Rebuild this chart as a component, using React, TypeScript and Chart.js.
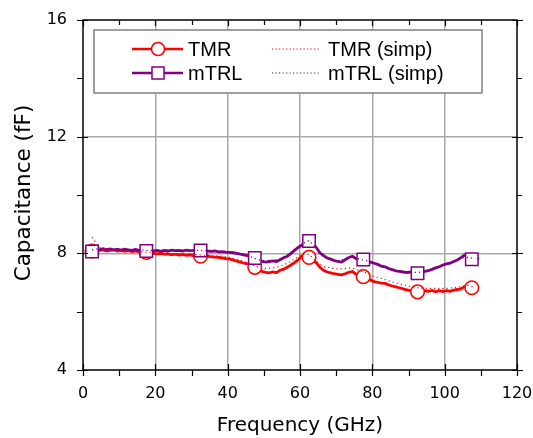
import React, { useEffect, useRef } from "react";
import { Chart, registerables } from "chart.js";

Chart.register(...registerables);

// Frequency sweep (GHz) of the measured curves
const freq = [
  2.5, 3.5, 4.5, 5.5, 6.5, 7.5, 8.5, 9.5, 10.5, 11.5,
  12.5, 13.5, 14.5, 15.5, 16.5, 17.5, 18.5, 19.5, 20.5, 21.5,
  22.5, 23.5, 24.5, 25.5, 26.5, 27.5, 28.5, 29.5, 30.5, 31.5,
  32.5, 33.5, 34.5, 35.5, 36.5, 37.5, 38.5, 39.5, 40.5, 41.5,
  42.5, 43.5, 44.5, 45.5, 46.5, 47.5, 48.5, 49.5, 50.5, 51.5,
  52.5, 53.5, 54.5, 55.5, 56.5, 57.5, 58.5, 59.5, 60.5, 61.5,
  62.5, 63.5, 64.5, 65.5, 66.5, 67.5, 68.5, 69.5, 70.5, 71.5,
  72.5, 73.5, 74.5, 75.5, 76.5, 77.5, 78.5, 79.5, 80.5, 81.5,
  82.5, 83.5, 84.5, 85.5, 86.5, 87.5, 88.5, 89.5, 90.5, 91.5,
  92.5, 93.5, 94.5, 95.5, 96.5, 97.5, 98.5, 99.5, 100.5, 101.5,
  102.5, 103.5, 104.5, 105.5, 106.5, 107.5, 108.5, 109.5,
];

const tmr = [
  8.08, 8.12, 8.1, 8.12, 8.08, 8.1, 8.12, 8.08, 8.1, 8.07,
  8.09, 8.06, 8.08, 8.05, 8.06, 8.03, 8.02, 8.0, 7.98, 8.0,
  7.97, 7.98, 7.95, 7.97, 7.94, 7.96, 7.93, 7.95, 7.92, 7.93,
  7.9, 7.92, 7.9, 7.88, 7.87, 7.86, 7.84, 7.82, 7.8, 7.78,
  7.73, 7.7, 7.66, 7.64, 7.6, 7.52, 7.42, 7.38, 7.35, 7.33,
  7.36, 7.34, 7.42, 7.46, 7.52, 7.6, 7.68, 7.78, 7.9, 7.96,
  7.86, 7.8, 7.68, 7.52, 7.42, 7.36, 7.33, 7.3, 7.28, 7.26,
  7.3, 7.35, 7.38, 7.28, 7.22, 7.2, 7.16, 7.08, 7.03, 7.0,
  6.98, 6.97, 6.92, 6.88, 6.85, 6.82, 6.78, 6.75, 6.72, 6.7,
  6.68, 6.7, 6.72, 6.7, 6.73, 6.68, 6.72, 6.69, 6.72, 6.7,
  6.74, 6.76, 6.78, 6.86, 6.88, 6.82, 6.84, 6.8,
];

const mtrl = [
  8.06, 8.15, 8.12, 8.16, 8.13, 8.15, 8.12, 8.14, 8.11, 8.14,
  8.12, 8.1, 8.13, 8.1, 8.12, 8.08, 8.1, 8.08, 8.1, 8.07,
  8.1, 8.08, 8.11, 8.09, 8.1, 8.08, 8.11, 8.09, 8.1, 8.12,
  8.1, 8.1, 8.08, 8.07, 8.08, 8.05, 8.06, 8.04, 8.03, 8.02,
  8.0, 7.97, 7.95, 7.92, 7.9, 7.84, 7.76, 7.72, 7.7, 7.72,
  7.74, 7.72, 7.78, 7.85, 7.9, 8.0, 8.1, 8.2, 8.28, 8.38,
  8.42, 8.35, 8.2, 8.02, 7.92, 7.84, 7.8, 7.75, 7.72, 7.7,
  7.78, 7.86, 7.9, 7.82, 7.8, 7.79, 7.76, 7.7, 7.66, 7.62,
  7.56, 7.54, 7.48, 7.44, 7.4, 7.38, 7.36, 7.34, 7.36, 7.33,
  7.32, 7.34, 7.38, 7.41, 7.45, 7.5, 7.54, 7.6, 7.64, 7.66,
  7.72, 7.77, 7.85, 7.94, 7.88, 7.8, 7.83, 7.82,
];

// Simplified-model curves
const freqSimp = [
  2.5, 4.5, 6.5, 8.5, 10.5, 12.5, 14.5, 16.5, 18.5, 20.5,
  22.5, 24.5, 26.5, 28.5, 30.5, 32.5, 34.5, 36.5, 38.5, 40.5,
  42.5, 44.5, 46.5, 48.5, 50.5, 52.5, 54.5, 56.5, 58.5, 60.5,
  62.5, 64.5, 66.5, 68.5, 70.5, 72.5, 74.5, 76.5, 78.5, 80.5,
  82.5, 84.5, 86.5, 88.5, 90.5, 92.5, 94.5, 96.5, 98.5, 100.5,
  102.5, 104.5, 106.5, 108.5,
];

const tmrSimp = [
  8.55, 8.2, 8.15, 8.12, 8.1, 8.08, 8.07, 8.05, 8.04, 8.0,
  8.02, 7.98, 7.99, 7.96, 7.97, 7.94, 7.93, 7.92, 7.9, 7.86,
  7.8, 7.72, 7.62, 7.52, 7.48, 7.5, 7.56, 7.66, 7.8, 7.98,
  7.96, 7.72, 7.55, 7.5, 7.46, 7.48, 7.5, 7.4, 7.32, 7.2,
  7.14, 7.06, 6.98, 6.92, 6.86, 6.82, 6.8, 6.8, 6.79, 6.8,
  6.82, 6.86, 6.9, 6.82,
];

const mtrlSimp = [
  8.12, 8.16, 8.14, 8.13, 8.13, 8.12, 8.12, 8.11, 8.1, 8.1,
  8.1, 8.1, 8.1, 8.1, 8.1, 8.1, 8.08, 8.07, 8.05, 8.03,
  7.99, 7.94, 7.88, 7.78, 7.73, 7.75, 7.82, 7.94, 8.14, 8.32,
  8.44, 8.18, 7.9, 7.8, 7.74, 7.82, 7.88, 7.8, 7.74, 7.66,
  7.58, 7.5, 7.42, 7.38, 7.36, 7.34, 7.38, 7.46, 7.55, 7.64,
  7.72, 7.84, 7.86, 7.82,
];

const markerEvery = 15;
const xTickLabels = [0, 20, 40, 60, 80, 100, 120];
const yTickLabels = [4, 8, 12, 16];
const xMinorTicks = [10, 30, 50, 70, 90, 110];
const yMinorTicks = [6, 10, 14];

const RED = "#ff0000";
const PURPLE = "#800080";

export default function App() {
  const ref = useRef<HTMLCanvasElement>(null);

  useEffect(() => {
    const canvas = ref.current!;
    const pts = (xs: number[], ys: number[]) => xs.map((x, i) => ({ x, y: ys[i] }));

    const framePlugin = {
      id: "frameAndLegend",
      afterDatasetsDraw(chart: any) {
        const { ctx, chartArea: a, scales } = chart;
        const xs = scales.x;
        const ys = scales.y;
        ctx.save();
        // frame
        ctx.strokeStyle = "#000";
        ctx.lineWidth = 1.5;
        ctx.strokeRect(a.left, a.top, a.right - a.left, a.bottom - a.top);
        // ticks
        ctx.lineWidth = 1.2;
        ctx.beginPath();
        for (const v of xTickLabels) {
          const p = Math.round(xs.getPixelForValue(v)) + 0.5;
          ctx.moveTo(p, a.bottom - 6);
          ctx.lineTo(p, a.bottom + 6);
          ctx.moveTo(p, a.top);
          ctx.lineTo(p, a.top + 6);
        }
        for (const v of xMinorTicks) {
          const p = Math.round(xs.getPixelForValue(v)) + 0.5;
          ctx.moveTo(p, a.bottom);
          ctx.lineTo(p, a.bottom + 6);
          ctx.moveTo(p, a.top);
          ctx.lineTo(p, a.top + 5);
        }
        for (const v of yTickLabels) {
          const p = Math.round(ys.getPixelForValue(v)) + 0.5;
          ctx.moveTo(a.left - 6, p);
          ctx.lineTo(a.left + 5, p);
          ctx.moveTo(a.right - 5, p);
          ctx.lineTo(a.right + 6, p);
        }
        for (const v of yMinorTicks) {
          const p = Math.round(ys.getPixelForValue(v)) + 0.5;
          ctx.moveTo(a.left - 6, p);
          ctx.lineTo(a.left, p);
          ctx.moveTo(a.right, p);
          ctx.lineTo(a.right + 5, p);
        }
        ctx.stroke();

        // legend
        const bx = 94, by = 30, bw = 388, bh = 63;
        ctx.fillStyle = "#fff";
        ctx.fillRect(bx, by, bw, bh);
        ctx.strokeStyle = "#808080";
        ctx.lineWidth = 1.5;
        ctx.strokeRect(bx, by, bw, bh);
        const rows = [49, 73];
        ctx.font = '20px "Liberation Sans", Arial, sans-serif';
        ctx.textBaseline = "middle";
        ctx.textAlign = "left";
        // TMR
        ctx.strokeStyle = RED;
        ctx.lineWidth = 2.5;
        ctx.beginPath();
        ctx.moveTo(132, rows[0]);
        ctx.lineTo(183, rows[0]);
        ctx.stroke();
        ctx.fillStyle = "#fff";
        ctx.lineWidth = 1.5;
        ctx.beginPath();
        ctx.arc(158, rows[0], 6.5, 0, Math.PI * 2);
        ctx.fill();
        ctx.stroke();
        ctx.fillStyle = "#000";
        ctx.fillText("TMR", 188, rows[0] + 1);
        // mTRL
        ctx.strokeStyle = PURPLE;
        ctx.lineWidth = 2.5;
        ctx.beginPath();
        ctx.moveTo(132, rows[1]);
        ctx.lineTo(183, rows[1]);
        ctx.stroke();
        ctx.fillStyle = "#fff";
        ctx.lineWidth = 1.5;
        ctx.fillRect(152, rows[1] - 6, 12, 12);
        ctx.strokeRect(152, rows[1] - 6, 12, 12);
        ctx.fillStyle = "#000";
        ctx.fillText("mTRL", 188, rows[1] + 1);
        // simp
        ctx.lineWidth = 1.2;
        ctx.setLineDash([1.2, 2.3]);
        ctx.strokeStyle = RED;
        ctx.beginPath();
        ctx.moveTo(272, rows[0]);
        ctx.lineTo(320, rows[0]);
        ctx.stroke();
        ctx.strokeStyle = PURPLE;
        ctx.beginPath();
        ctx.moveTo(272, rows[1]);
        ctx.lineTo(320, rows[1]);
        ctx.stroke();
        ctx.setLineDash([]);
        ctx.fillStyle = "#000";
        ctx.fillText("TMR (simp)", 328, rows[0] + 1);
        ctx.fillText("mTRL (simp)", 328, rows[1] + 1);

        // axis titles
        ctx.font = '20px "DejaVu Sans", Verdana, sans-serif';
        ctx.textAlign = "center";
        ctx.fillText("Frequency (GHz)", (a.left + a.right) / 2, 426);
        ctx.save();
        ctx.font = '21.5px "DejaVu Sans", Verdana, sans-serif';
        ctx.translate(24, 193);
        ctx.rotate(-Math.PI / 2);
        ctx.fillText("Capacitance (fF)", 0, 0);
        ctx.restore();
        ctx.restore();
      },
    };

    const markerRadius = (r: number) => (c: any) => (c.dataIndex % markerEvery === 0 ? r : 0);

    const chart = new Chart(canvas, {
      type: "line",
      data: {
        datasets: [
          {
            label: "TMR",
            data: pts(freq, tmr),
            borderColor: RED,
            backgroundColor: "#fff",
            borderWidth: 2.8,
            pointStyle: "circle",
            pointRadius: markerRadius(6.8),
            pointBorderWidth: 1.5,
            pointBorderColor: RED,
            pointBackgroundColor: "#fff",
            order: 4,
          },
          {
            label: "mTRL",
            data: pts(freq, mtrl),
            borderColor: PURPLE,
            backgroundColor: "#fff",
            borderWidth: 2.8,
            pointStyle: "rect",
            pointRadius: markerRadius(8.8),
            pointBorderWidth: 1.5,
            pointBorderColor: PURPLE,
            pointBackgroundColor: "#fff",
            order: 3,
          },
          {
            label: "TMR (simp)",
            data: pts(freqSimp, tmrSimp),
            borderColor: RED,
            borderWidth: 1.2,
            borderDash: [1.2, 3],
            pointRadius: 0,
            order: 2,
          },
          {
            label: "mTRL (simp)",
            data: pts(freqSimp, mtrlSimp),
            borderColor: PURPLE,
            borderWidth: 1.2,
            borderDash: [1.2, 3],
            pointRadius: 0,
            order: 1,
          },
        ],
      },
      options: {
        responsive: false,
        animation: false,
        devicePixelRatio: 1,
        layout: { padding: { top: 20, right: 16, left: 0, bottom: 0 } },
        plugins: { legend: { display: false }, tooltip: { enabled: false } },
        scales: {
          x: {
            type: "linear",
            min: 0,
            max: 120,
            afterFit: (s: any) => {
              s.height = 68;
              s.paddingLeft = 0;
              s.paddingRight = 0;
            },
            afterBuildTicks: (s: any) => {
              s.ticks = xTickLabels.map((v) => ({ value: v }));
            },
            ticks: {
              color: "#000",
              font: { family: '"DejaVu Sans", Verdana, sans-serif', size: 16 },
              padding: 14,
              maxRotation: 0,
              autoSkip: false,
            },
            grid: {
              drawTicks: false,
              lineWidth: 1.5,
              color: (c: any) =>
                c.tick && c.tick.value > 0 && c.tick.value < 120 ? "#a8a8a8" : "rgba(0,0,0,0)",
            },
            border: { display: false },
          },
          y: {
            type: "linear",
            min: 4,
            max: 16,
            afterFit: (s: any) => {
              s.width = 83;
              s.paddingTop = 0;
              s.paddingBottom = 0;
            },
            afterBuildTicks: (s: any) => {
              s.ticks = yTickLabels.map((v) => ({ value: v }));
            },
            ticks: {
              color: "#000",
              font: { family: '"DejaVu Sans", Verdana, sans-serif', size: 16 },
              padding: 16,
              autoSkip: false,
            },
            grid: {
              drawTicks: false,
              lineWidth: 1.5,
              color: (c: any) =>
                c.tick && c.tick.value > 4 && c.tick.value < 16 ? "#a8a8a8" : "rgba(0,0,0,0)",
            },
            border: { display: false },
          },
        },
      },
      plugins: [framePlugin],
    } as any);

    return () => chart.destroy();
  }, []);

  return (
    <div style={{ position: "fixed", left: 0, top: 0, width: 533, height: 438, background: "#fff" }}>
      <canvas ref={ref} width={533} height={438} style={{ width: 533, height: 438, display: "block" }} />
    </div>
  );
}
